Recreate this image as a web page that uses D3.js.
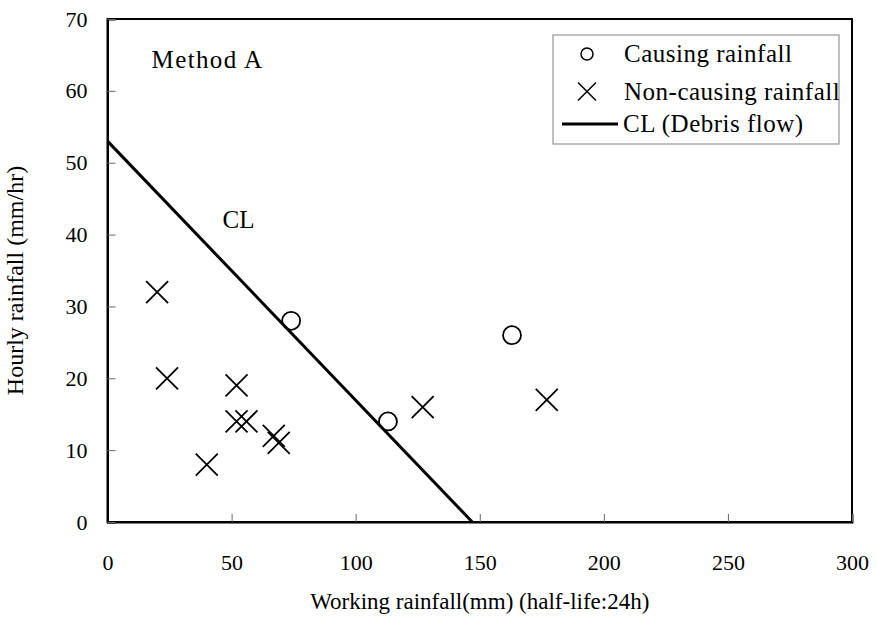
<!DOCTYPE html>
<html>
<head>
<meta charset="utf-8">
<script src="https://cdn.jsdelivr.net/npm/d3@7"></script>
<style>
  body { margin: 0; background: #fff; }
  svg text { font-family: "Liberation Serif", "Times New Roman", serif; fill: #000; }
  .axis path.domain { stroke: #000; stroke-width: 2; }
  .axis .tick line { stroke: #666; stroke-width: 1; }
</style>
</head>
<body>
<div id="chart"></div>
<script>
// values
let causingX = [74, 113, 163];
let causingY = [28, 14, 26];
let nonCausingX = [20, 24, 52, 52, 56, 67, 69, 40, 127, 177];
let nonCausingY = [32, 20, 19, 14, 14, 12, 11, 8, 16, 17];
let clX = [0, 147];
let clY = [53, 0];
let xTicks = [0, 50, 100, 150, 200, 250, 300];
let yTicks = [0, 10, 20, 30, 40, 50, 60, 70];
let legendLabels = ['Causing rainfall', 'Non-causing rainfall', 'CL (Debris flow)'];

let serif = '"Liberation Serif", "Times New Roman", serif';
let margin = {top: 19, right: 25, bottom: 95, left: 107.5};
let width = 877 - margin.left - margin.right;
let height = 617 - margin.top - margin.bottom;

let x = d3.scaleLinear().domain([0, 300]).range([0, width]);
let y = d3.scaleLinear().domain([0, 70]).range([height, 0]);

let svg = d3.select('#chart')
  .append('svg')
  .attr('width', 877)
  .attr('height', 617)
  .append('g')
  .attr('font-family', serif)
  .attr('transform', `translate(${margin.left},${margin.top})`);

// frame
svg.append('rect')
  .attr('width', width)
  .attr('height', height)
  .attr('fill', 'none')
  .attr('stroke', '#000')
  .attr('stroke-width', 2);

svg.append('g')
  .attr('class', 'x axis')
  .attr('transform', `translate(0,${height})`)
  .call(d3.axisBottom(x).tickValues(xTicks).tickSize(-8).tickPadding(32))
  .attr('font-family', serif)
  .attr('font-size', 22);

svg.append('g')
  .attr('class', 'y axis')
  .call(d3.axisLeft(y).tickValues(yTicks).tickSize(-8).tickPadding(20))
  .attr('font-family', serif)
  .attr('font-size', 22);

// critical line
let line = d3.line().x(d => x(d[0])).y(d => y(d[1]));
svg.append('path')
  .datum(clX.map((v, i) => [v, clY[i]]))
  .attr('d', line)
  .attr('fill', 'none')
  .attr('stroke', '#000')
  .attr('stroke-width', 3);

// causing rainfall circles
svg.append('g')
  .selectAll('circle')
  .data(causingX.map((v, i) => [v, causingY[i]]))
  .enter()
  .append('circle')
  .attr('cx', d => x(d[0]))
  .attr('cy', d => y(d[1]))
  .attr('r', 9)
  .attr('fill', 'none')
  .attr('stroke', '#000')
  .attr('stroke-width', 1.8);

// non-causing rainfall crosses
let cross = s => `M${-s},${-s}L${s},${s}M${-s},${s}L${s},${-s}`;
svg.append('g')
  .selectAll('path')
  .data(nonCausingX.map((v, i) => [v, nonCausingY[i]]))
  .enter()
  .append('path')
  .attr('transform', d => `translate(${x(d[0])},${y(d[1])})`)
  .attr('d', cross(11))
  .attr('fill', 'none')
  .attr('stroke', '#000')
  .attr('stroke-width', 1.8);

// annotations
svg.append('text')
  .attr('x', 44)
  .attr('y', 49)
  .attr('font-size', 25)
  .attr('letter-spacing', 1.4)
  .text('Method A');

svg.append('text')
  .attr('x', 115)
  .attr('y', 209)
  .attr('font-size', 25)
  .text('CL');

// axis titles
svg.append('text')
  .attr('x', width / 2)
  .attr('y', height + 87)
  .attr('text-anchor', 'middle')
  .attr('font-size', 23)
  .text('Working rainfall(mm) (half-life:24h)');

svg.append('text')
  .attr('transform', `translate(${-85},${height / 2 + 10}) rotate(-90)`)
  .attr('text-anchor', 'middle')
  .attr('font-size', 24)
  .text('Hourly rainfall (mm/hr)');

// legend
let legend = svg.append('g')
  .attr('transform', `translate(${553 - margin.left},${35 - margin.top})`);

legend.append('rect')
  .attr('width', 286)
  .attr('height', 109)
  .attr('fill', '#fff')
  .attr('stroke', '#808080')
  .attr('stroke-width', 1);

let rowY = [19, 56.5, 89];
legend.append('circle')
  .attr('cx', 34).attr('cy', rowY[0]).attr('r', 6)
  .attr('fill', 'none').attr('stroke', '#000').attr('stroke-width', 1.5);
legend.append('path')
  .attr('transform', `translate(34,${rowY[1]})`)
  .attr('d', cross(9))
  .attr('fill', 'none').attr('stroke', '#000').attr('stroke-width', 1.5);
legend.append('line')
  .attr('x1', 9).attr('x2', 65).attr('y1', rowY[2]).attr('y2', rowY[2])
  .attr('stroke', '#000').attr('stroke-width', 3);

legend.selectAll('text.lbl')
  .data(legendLabels)
  .enter()
  .append('text')
  .attr('class', 'lbl')
  .attr('x', (d, i) => i === 2 ? 70 : 71)
  .attr('y', (d, i) => rowY[i] + 8)
  .attr('font-size', 25)
  .attr('letter-spacing', 0.5)
  .text(d => d);
</script>
</body>
</html>
